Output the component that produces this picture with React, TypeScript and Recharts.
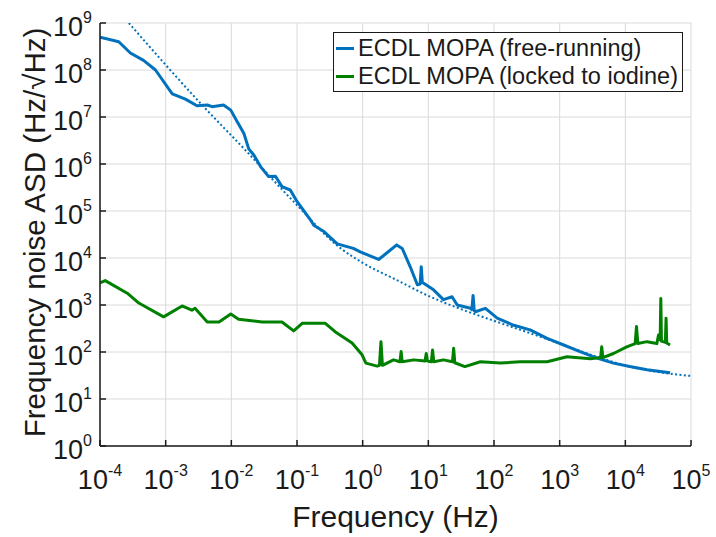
import React from 'react';
import {
  CartesianGrid,
  Legend,
  Line,
  LineChart,
  XAxis,
  YAxis,
} from 'recharts';

// frequency (Hz) / ASD (Hz/rtHz)
const freeFreq = [
  1e-4, 1.93e-4, 2.9e-4, 4.6e-4, 7.0e-4, 1.26e-3, 2.0e-3, 3.0e-3, 4.3e-3, 5.1e-3,
  7.6e-3, 9.8e-3, 1.23e-2, 1.55e-2, 1.84e-2, 2.2e-2, 2.8e-2, 3.7e-2, 4.7e-2, 5.9e-2,
  7.9e-2, 0.1, 0.16, 0.18, 0.26, 0.41, 0.72, 0.92, 1.75, 2.3,
  3.3, 4.0, 5.3, 6.8, 7.5, 7.8, 8.1, 8.5, 12, 17,
  23, 27.5, 44, 46, 48, 50, 52, 74, 112, 200,
  355, 645, 1150, 2040, 3700, 6600, 11700, 21400, 47900,
];
const freeAsd = [
  5.0e8, 4.0e8, 2.3e8, 1.6e8, 1.0e8, 3.1e7, 2.4e7, 1.74e7, 1.8e7, 1.66e7,
  1.8e7, 1.4e7, 7.9e6, 4.5e6, 2.1e6, 1.55e6, 8.7e5, 5.4e5, 5.5e5, 3.3e5,
  2.8e5, 1.6e5, 6.5e4, 5.0e4, 3.6e4, 2.0e4, 1.6e4, 1.35e4, 9.3e3, 1.26e4,
  1.9e4, 1.6e4, 6.5e3, 2.7e3, 2.8e3, 6.5e3, 3.0e3, 2.9e3, 2.1e3, 1.3e3,
  1.5e3, 1.0e3, 850, 800, 1600, 760, 720, 850, 525, 370,
  295, 195, 141, 102, 74, 58, 49, 42, 36,
];

const fitFreq = [
  2.75e-4, 3.4e-3, 1.62e-2, 8.9e-2, 0.46, 1.0, 3.3, 10.7, 34.7, 112,
  355, 1150, 3700, 11700, 38000, 1e5,
];
const fitAsd = [
  1.0e9, 1.95e7, 2.0e6, 1.58e5, 1.62e4, 7.9e3, 3.4e3, 1.5e3, 776, 437,
  251, 141, 79, 49, 36, 31,
];

const lockedFreq = [
  1e-4, 1.2e-4, 2.6e-4, 3.9e-4, 9.3e-4, 1.78e-3, 2.5e-3, 2.8e-3, 4.3e-3, 6.5e-3,
  9.8e-3, 1.29e-2, 2.95e-2, 5.9e-2, 8.9e-2, 0.12, 0.27, 0.38, 0.69, 0.98,
  1.12, 1.66, 1.8, 1.9, 2.0, 2.95, 3.7, 3.85, 4.0, 6.0,
  8.9, 9.3, 9.7, 11.1, 11.6, 12.1, 17, 23.3, 24.3, 25.3,
  36, 62, 126, 251, 645, 1290, 2950, 4200, 4370, 4550,
  6600, 10500, 14100, 14800, 15500, 21400, 30200, 32000, 33900, 34700,
  35500, 40700, 41700, 42700, 47900,
];
const lockedAsd = [
  2950, 3300, 1780, 1100, 560, 955, 776, 850, 436, 436,
  645, 500, 436, 436, 282, 407, 407, 270, 155, 87,
  58, 50, 52, 166, 52, 68, 62, 102, 62, 68,
  64, 93, 64, 62, 110, 62, 68, 62, 120, 59,
  49, 62, 58, 62, 62, 79, 72, 76, 129, 76,
  93, 129, 151, 347, 151, 166, 151, 229, 180, 1380,
  170, 160, 525, 155, 141,
];

const xTicks = [1e-4, 1e-3, 1e-2, 1e-1, 1e0, 1e1, 1e2, 1e3, 1e4, 1e5];
const yTicks = [1e0, 1e1, 1e2, 1e3, 1e4, 1e5, 1e6, 1e7, 1e8, 1e9];

const seriesNames = ['ECDL MOPA (free-running)', 'ECDL MOPA (locked to iodine)'];
const seriesColors = ['#0072BD', '#008000'];

const toRows = (f: number[], v: number[]) => f.map((x, i) => ({ f: x, v: v[i] }));
const freeData = toRows(freeFreq, freeAsd);
const fitData = toRows(fitFreq, fitAsd);
const lockedData = toRows(lockedFreq, lockedAsd);

const FONT = "'Liberation Sans', Arial, Helvetica, sans-serif";
const INK = '#1a1a1a';

const exp10 = (v: number) => Math.round(Math.log10(v));

const XTick = (props: any) => {
  const { x, y, payload } = props;
  return (
    <g>
      <line x1={x} y1={y} x2={x} y2={y - 6} stroke={INK} strokeWidth={1.5} />
      <text x={x} y={y + 43} textAnchor="middle" fontSize={27} fill={INK} fontFamily={FONT}>
        10
        <tspan fontSize={16} dy={-13}>
          {exp10(payload.value)}
        </tspan>
      </text>
    </g>
  );
};

const XTopTick = (props: any) => {
  const { x, y } = props;
  return <line x1={x} y1={y} x2={x} y2={y + 6} stroke={INK} strokeWidth={1.5} />;
};

const YTick = (props: any) => {
  const { x, y, payload } = props;
  return (
    <g>
      <line x1={x} y1={y} x2={x + 6} y2={y} stroke={INK} strokeWidth={1.5} />
      <text x={x - 8} y={y + 13} textAnchor="end" fontSize={27} fill={INK} fontFamily={FONT}>
        10
        <tspan fontSize={16} dy={-13}>
          {exp10(payload.value)}
        </tspan>
      </text>
    </g>
  );
};

const YRightTick = (props: any) => {
  const { x, y } = props;
  return <line x1={x} y1={y} x2={x - 6} y2={y} stroke={INK} strokeWidth={1.5} />;
};

const LegendBox = () => (
  <div
    style={{
      width: 350,
      height: 60,
      border: `1.5px solid ${INK}`,
      background: '#fff',
      fontFamily: FONT,
      fontSize: 23.5,
      color: INK,
      paddingTop: 1,
      boxSizing: 'border-box',
    }}
  >
    {seriesNames.map((name, i) => (
      <div key={name} style={{ display: 'flex', alignItems: 'center', height: 28.5 }}>
        <span
          style={{
            display: 'inline-block',
            width: 18,
            height: 3,
            marginLeft: 2,
            marginRight: 4,
            background: seriesColors[i],
          }}
        />
        <span style={{ whiteSpace: 'nowrap' }}>{name}</span>
      </div>
    ))}
  </div>
);

const YLabel = (props: any) => {
  const { viewBox } = props;
  const cx = viewBox.x + 34;
  const cy = viewBox.y + viewBox.height / 2 - 2;
  return (
    <text
      x={cx}
      y={cy}
      transform={`rotate(-90,${cx},${cy})`}
      textAnchor="middle"
      dominantBaseline="central"
      fontSize={29.5}
      fill={INK}
      fontFamily={FONT}
    >
      Frequency noise ASD (Hz/√Hz)
    </text>
  );
};

const XLabel = (props: any) => {
  const { viewBox } = props;
  return (
    <text
      x={viewBox.x + viewBox.width / 2}
      y={viewBox.y + 81}
      textAnchor="middle"
      fontSize={30}
      fill={INK}
      fontFamily={FONT}
    >
      Frequency (Hz)
    </text>
  );
};

export default function App() {
  return (
    <div style={{ position: 'absolute', left: 0, top: 0, background: '#fff' }}>
      <LineChart
        width={716}
        height={537}
        margin={{ top: 23, right: 25, left: 0, bottom: 0 }}
      >
        <CartesianGrid stroke="#dadada" strokeWidth={1} />
        <XAxis
          dataKey="f"
          type="number"
          scale="log"
          domain={[1e-4, 1e5]}
          ticks={xTicks}
          allowDataOverflow
          height={91}
          tickSize={0}
          tickMargin={0}
          tickLine={false}
          tick={<XTick />}
          axisLine={{ stroke: INK, strokeWidth: 1.5 }}
          label={<XLabel />}
        />
        <XAxis
          xAxisId="top"
          orientation="top"
          dataKey="f"
          type="number"
          scale="log"
          domain={[1e-4, 1e5]}
          ticks={xTicks}
          allowDataOverflow
          height={0}
          tickSize={0}
          tickMargin={0}
          tickLine={false}
          tick={<XTopTick />}
          axisLine={{ stroke: INK, strokeWidth: 1.5 }}
        />
        <YAxis
          type="number"
          scale="log"
          domain={[1, 1e9]}
          ticks={yTicks}
          allowDataOverflow
          width={100}
          tickSize={0}
          tickMargin={0}
          tickLine={false}
          tick={<YTick />}
          axisLine={{ stroke: INK, strokeWidth: 1.5 }}
          label={<YLabel />}
        />
        <YAxis
          yAxisId="right"
          orientation="right"
          type="number"
          scale="log"
          domain={[1, 1e9]}
          ticks={yTicks}
          allowDataOverflow
          width={0}
          tickSize={0}
          tickMargin={0}
          tickLine={false}
          tick={<YRightTick />}
          axisLine={{ stroke: INK, strokeWidth: 1.5 }}
        />
        <Legend
          layout="vertical"
          align="center"
          verticalAlign="middle"
          content={<LegendBox />}
          wrapperStyle={{ position: 'absolute', left: 333, top: 32, width: 350 }}
        />
        <Line
          data={fitData}
          dataKey="v"
          type="monotone"
          stroke={seriesColors[0]}
          strokeWidth={2}
          strokeDasharray="2 2.4"
          dot={false}
          legendType="none"
          isAnimationActive={false}
        />
        <Line
          data={freeData}
          dataKey="v"
          name={seriesNames[0]}
          type="linear"
          stroke={seriesColors[0]}
          strokeWidth={3}
          strokeLinejoin="round"
          dot={false}
          isAnimationActive={false}
        />
        <Line
          data={lockedData}
          dataKey="v"
          name={seriesNames[1]}
          type="linear"
          stroke={seriesColors[1]}
          strokeWidth={3}
          strokeLinejoin="round"
          dot={false}
          isAnimationActive={false}
        />
      </LineChart>
    </div>
  );
}
